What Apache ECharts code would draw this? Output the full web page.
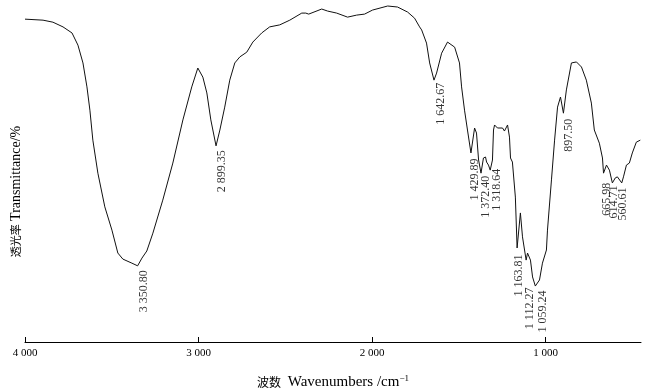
<!DOCTYPE html>
<html>
<head>
<meta charset="utf-8">
<script src="https://cdn.jsdelivr.net/npm/echarts@6/dist/echarts.min.js"></script>
<style>
  html, body { margin: 0; padding: 0; background: #fff; }
  #chart { width: 649px; height: 390px; }
</style>
</head>
<body>
<div id="chart"></div>
<script>
// spectrum: wavenumber (cm-1) and relative transmittance
const wavenumbers = [
  4000, 3896, 3839, 3781, 3729, 3695, 3666, 3643, 3626, 3609, 3580, 3540, 3499, 3465, 3436, 3384, 3351,
  3326, 3298, 3263, 3206, 3148, 3090, 3039, 3004, 2975, 2952, 2929, 2899, 2877, 2849, 2820, 2791, 2762,
  2722, 2687, 2636, 2590, 2532, 2474, 2405, 2382, 2365, 2290, 2256, 2204, 2141, 2089, 2043, 1997, 1910,
  1853, 1795, 1755, 1726, 1714, 1686, 1668, 1643, 1628, 1599, 1565, 1524, 1496, 1484, 1467, 1450, 1430,
  1409, 1398, 1386, 1372, 1358, 1346, 1340, 1329, 1319, 1306, 1300, 1294, 1277, 1248, 1237, 1219, 1208,
  1202, 1191, 1174, 1164, 1145, 1133, 1112, 1104, 1087, 1075, 1059, 1035, 1018, 995, 989, 966, 948,
  931, 914, 897, 880, 851, 822, 793, 765, 736, 719, 690, 672, 666, 649, 632, 615, 598, 586, 561, 551,
  534, 517, 500, 477, 454
];
const transmittance = [
  95.8, 95.5, 94.9, 93.5, 91.7, 88.1, 82.8, 75.7, 68.8, 59.9, 50.1, 40.1, 33.2, 26.4, 24.6, 23.4, 22.6,
  24.9, 27.0, 32.3, 42.1, 53.1, 65.9, 75.7, 81.3, 78.6, 73.9, 65.9, 58.2, 62.9, 69.7, 77.7, 82.8, 84.6,
  86.0, 89.0, 91.7, 93.5, 94.1, 95.5, 97.6, 97.6, 97.3, 98.8, 98.2, 97.6, 96.4, 97.0, 97.3, 98.5, 99.7,
  99.4, 97.9, 96.1, 93.5, 92.6, 88.7, 82.8, 77.7, 79.8, 85.7, 89.0, 87.5, 82.8, 75.7, 68.8, 62.9, 56.1,
  63.5, 62.0, 54.0, 50.1, 54.6, 54.9, 53.4, 52.5, 51.0, 54.0, 62.9, 64.4, 63.5, 63.5, 62.6, 64.4, 60.8,
  54.6, 53.4, 43.0, 27.9, 38.3, 31.2, 24.3, 26.4, 24.3, 19.3, 16.6, 18.4, 23.4, 27.3, 33.2, 48.1, 59.9,
  69.7, 72.7, 67.9, 74.8, 82.8, 83.1, 81.6, 77.7, 70.9, 62.9, 59.0, 54.6, 50.1, 52.5, 51.0, 47.2, 48.7, 49.0, 47.2, 49.0,
  52.5, 53.1, 56.1, 59.3, 59.9
];
const peakWavenumbers = [3350.80, 2899.35, 1642.67, 1429.89, 1372.40, 1318.64, 1163.81, 1112.27, 1059.24, 897.50, 665.98, 614.71, 560.61];
const peakTransmittance = [22.6, 58.2, 77.7, 56.1, 50.1, 51.0, 27.9, 24.3, 16.6, 67.9, 50.1, 47.2, 47.2];
const xTicks = [4000, 3000, 2000, 1000];

// screen nudges (px: right, down) for the peak labels so they sit like the original
const labelNudge = [[6, 4], [5.5, 4], [6.5, 2], [4, 5], [4.5, 2], [7, -2], [1.5, 6], [3.5, 27], [8, 4], [5, 5], [3, 9], [1.5, 2], [1, 4]];

function spaced(v, digits) {
  const s = v.toFixed(digits);
  const parts = s.split(".");
  const intPart = parts[0].replace(/\B(?=(\d{3})+(?!\d))/g, " ");
  return parts.length > 1 ? intPart + "." + parts[1] : intPart;
}

const serif = "Liberation Serif";
const cjk = "Noto Sans CJK SC";

const option = {
  animation: false,
  grid: { left: 25, right: 8, top: 5, bottom: 48, outerBoundsMode: "none" },
  xAxis: {
    type: "value",
    inverse: true,
    min: 450,
    max: 4000,
    name: "{cn|波数}  {en|Wavenumbers /cm}{sup|−1}",
    nameLocation: "middle",
    nameGap: 32,
    nameTextStyle: {
      rich: {
        cn: { fontFamily: cjk, fontSize: 12, color: "#000", lineHeight: 17 },
        en: { fontFamily: serif, fontSize: 15, color: "#000", lineHeight: 17 },
        sup: { fontFamily: serif, fontSize: 9, color: "#000", lineHeight: 9, verticalAlign: "top" },
      },
    },
    axisLine: { lineStyle: { color: "#000", width: 1 } },
    axisTick: { inside: true, length: 5, customValues: xTicks, lineStyle: { color: "#000" } },
    axisLabel: {
      customValues: xTicks,
      formatter: (v) => spaced(v, 0),
      fontFamily: serif,
      fontSize: 11,
      color: "#000",
      margin: 6,
    },
    splitLine: { show: false },
  },
  yAxis: {
    type: "value",
    min: 0,
    max: 100,
    name: "{cn|透光率} {en|Transmittance/%}",
    nameLocation: "middle",
    nameRotate: 90,
    nameGap: 2,
    nameTextStyle: {
      padding: [0, 36, 0, 0],
      rich: {
        cn: { fontFamily: cjk, fontSize: 11, color: "#000" },
        en: { fontFamily: serif, fontSize: 14, color: "#000" },
      },
    },
    axisLine: { show: false },
    axisTick: { show: false },
    axisLabel: { show: false },
    splitLine: { show: false },
  },
  series: [
    {
      type: "line",
      data: wavenumbers.map((w, i) => [w, transmittance[i]]),
      symbol: "none",
      lineStyle: { color: "#111", width: 1 },
      silent: true,
    },
    {
      type: "scatter",
      data: peakWavenumbers.map((w, i) => [w, peakTransmittance[i]]),
      symbolSize: 1,
      itemStyle: { color: "rgba(0,0,0,0)" },
      label: {
        show: true,
        position: "bottom",
        distance: 0,
        rotate: 90,
        align: "right",
        verticalAlign: "middle",
        fontFamily: serif,
        fontSize: 12,
        color: "#000",
        formatter: (p) => spaced(peakWavenumbers[p.dataIndex], 2),
      },
      // the label box is rotated, so the shift is given in its own frame
      labelLayout: (p) => ({ dx: -labelNudge[p.dataIndex][1], dy: labelNudge[p.dataIndex][0] }),
      silent: true,
    },
  ],
};

const myChart = echarts.init(document.getElementById("chart"));
myChart.setOption(option);
</script>
</body>
</html>
